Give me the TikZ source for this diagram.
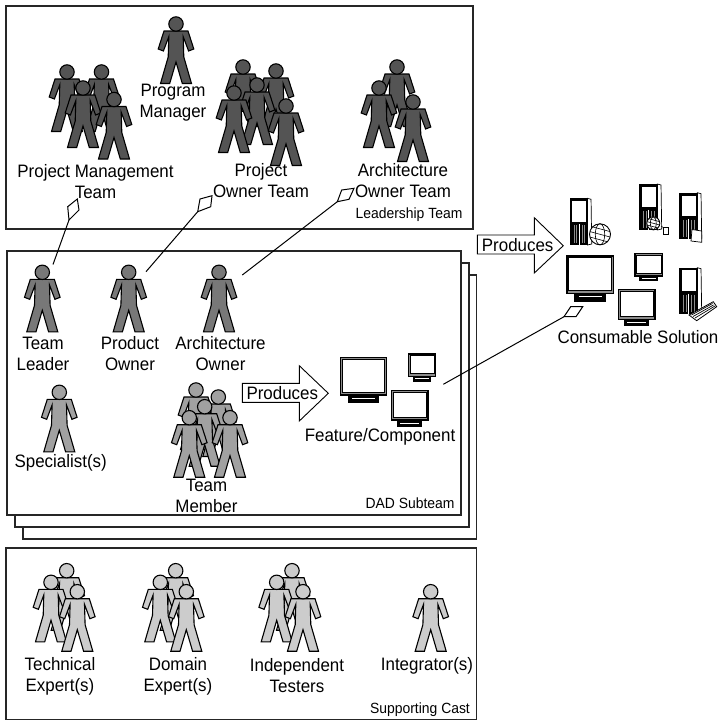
\documentclass[tikz,border=0pt]{standalone}
\usepackage{fontspec}
\setmainfont[FakeStretch=0.94]{Liberation Sans}
\tikzset{
  x=1pt,y=-1pt,
  frame/.style={draw=black!85,line width=1.3pt,fill=white},
  lab/.style={align=center,inner sep=0pt,font=\fontsize{18}{21}\selectfont},
  small/.style={inner sep=0pt,font=\fontsize{14.8}{17}\selectfont},
  conn/.style={draw=black,line width=1pt},
  kite/.style={draw=black,line width=1pt,fill=white},
  bigarrow/.style={draw=black,line width=.9pt,fill=white},
}
\definecolor{pdark}{gray}{.33}
\definecolor{pmid}{gray}{.47}
\definecolor{plight}{gray}{.63}
\definecolor{ppale}{gray}{.8}
\newcommand{\person}[3]{%
  \begin{scope}[shift={(#1,#2)}]
    \draw[fill=#3,draw=black,line width=1.1pt,line join=miter]
      (-12,7)--(-17.8,25)--(-12.6,27)--(-7.2,12.7)--(-7.8,33)--(-15.5,59.5)--(-6.3,59.5)--(0,38)
      --(6.3,59.5)--(15.5,59.5)--(7.8,33)--(7.2,12.7)--(12.6,27)--(17.8,25)--(12,7)--cycle;
    \draw[fill=#3,draw=black,line width=1.1pt] (0,0) circle (7.2);
  \end{scope}}
% x0 y0 x1 y1 (screen) y2 (bottom of stand)
\newcommand{\monitor}[5]{%
  \fill[black] ({#1+.16*(#3-#1)},#4) rectangle ({#3-.16*(#3-#1)},#5);
  \fill[white] ({#1+.25*(#3-#1)},{#4+.35*(#5-#4)}) rectangle ({#3-.25*(#3-#1)},{#4+.48*(#5-#4)});
  \draw[fill=black!45,draw=black,line width=1.1pt] (#1,#2) rectangle (#3,#4);
  \draw[fill=white,draw=black,line width=.8pt] ({#1+1.8},{#2+1.8}) rectangle ({#3-1.8},{#4-3});
}
% x0 y0 x1 y1
\newcommand{\tower}[4]{%
  \draw[fill=white,draw=black,line width=.7pt] ({#3-.2*(#3-#1)},#2)--({#3-.03*(#3-#1)},{#2+1})--(#3,{#4-1})--({#3-.2*(#3-#1)},#4)--cycle;
  \fill[black] (#1,#2) rectangle ({#1+.84*(#3-#1)},#4);
  \fill[white] ({#1+.11*(#3-#1)},{#2+.06*(#4-#2)}) rectangle ({#1+.73*(#3-#1)},{#2+.5*(#4-#2)});
  \foreach \t in {.14,.26,.5,.62}{
    \draw[black!45,line width=.3pt] ({#1+(\t+.04)*(#3-#1)},{#2+.58*(#4-#2)})--({#1+(\t+.04)*(#3-#1)},{#2+.96*(#4-#2)});}
  \draw[white,line width=.7pt] ({#1+.42*(#3-#1)},{#2+.56*(#4-#2)})--({#1+.42*(#3-#1)},{#4});
}
\newcommand{\globe}[3]{%
  \draw[fill=white,draw=black,line width=.9pt] (#1,#2) circle (#3);
  \draw[black,line width=.6pt] (#1,#2) ellipse ({.45*#3} and #3);
  \draw[black,line width=.6pt,rotate around={-15:(#1,#2)}] ({#1-#3},#2)--({#1+#3},#2);
  \draw[black,line width=.6pt,rotate around={-15:(#1,#2)}] ({#1-.85*#3},{#2-.5*#3})--({#1+.85*#3},{#2-.5*#3});
  \draw[black,line width=.6pt,rotate around={-15:(#1,#2)}] ({#1-.85*#3},{#2+.5*#3})--({#1+.85*#3},{#2+.5*#3});
}
\begin{document}
\begin{tikzpicture}
\useasboundingbox (0,0) rectangle (721,721);
\fill[white] (0,0) rectangle (721,721);
% frames
\draw[frame] (6,6) rectangle (473,229);
\draw[frame] (23,275) rectangle (476.5,539);
\draw[frame] (15,263) rectangle (469,527);
\draw[frame] (7,251) rectangle (461,515);
\draw[frame] (6,548) rectangle (476.5,719.5);
% people: leadership
\person{176}{24}{pdark}
\person{67}{72}{pdark}\person{101.5}{72}{pdark}\person{83}{88}{pdark}\person{114}{99.5}{pdark}
\person{243}{67}{pdark}\person{276}{71}{pdark}\person{257}{85}{pdark}\person{234}{93}{pdark}\person{286}{106}{pdark}
\person{397}{67}{pdark}\person{379}{88}{pdark}\person{413}{102}{pdark}
% people: subteam
\person{42.3}{272.3}{pmid}\person{128.7}{272.3}{pmid}\person{219}{272.3}{pmid}
\person{59.3}{392.3}{plight}
\person{196}{390}{plight}\person{218.3}{397}{plight}\person{204.7}{406.7}{plight}\person{189.3}{417.7}{plight}\person{230}{417.7}{plight}
% people: cast
\person{66.7}{570.7}{ppale}\person{51}{582.3}{ppale}\person{77.3}{591.7}{ppale}
\person{175.7}{570.7}{ppale}\person{160.3}{582.3}{ppale}\person{186.3}{591.7}{ppale}
\person{292}{570.7}{ppale}\person{276.7}{582.3}{ppale}\person{303}{591.7}{ppale}
\person{430.7}{591.7}{ppale}
% labels
\node[lab] (pm) at (173,102.5) {Program\\Manager};
\node[lab] (pmt) at (95.5,181.5) {Project Management\\Team};
\node[lab] (pot) at (261,181) {Project\\Owner Team};
\node[lab] (aot) at (403,181) {Architecture\\Owner Team};
\node[small] (lt) at (409,215) {Leadership Team};
\node[lab] (tl) at (43,354) {Team\\Leader};
\node[lab] (po) at (130,354) {Product\\Owner};
\node[lab] (ao) at (220.5,354) {Architecture\\Owner};
\node[lab] (sp) at (60.7,463) {Specialist(s)};
\node[lab] (tm) at (206.5,495.5) {Team\\Member};
\node[lab] (fc) at (380,437) {Feature/Component};
\node[small] (ds) at (410,503) {DAD Subteam};
\node[lab] (te) at (60,676) {Technical\\Expert(s)};
\node[lab] (de) at (178,676) {Domain\\Expert(s)};
\node[lab] (it) at (297,676) {Independent\\Testers};
\node[lab] (ig) at (427,666) {Integrator(s)};
\node[small] (sc) at (420,710) {Supporting Cast};
\node[lab] (cs) at (638,337) {Consumable Solution};
% connectors and kites
\coordinate (c1) at (53,264.5); \coordinate (k1) at (69,220);
\coordinate (c2) at (146,271.7); \coordinate (k2) at (197.7,211.7);
\coordinate (c3) at (242.3,275); \coordinate (k3) at (337.3,201.7);
\coordinate (c4) at (443.3,384.3); \coordinate (k4) at (564,316.7);
\draw[conn] (c1)--(k1);
\draw[conn] (c2)--(k2);
\draw[conn] (c3)--(k3);
\draw[conn] (c4)--(k4);
\draw[kite] (k1)--(67.7,206.7)--(77.3,199)--(79,210)--cycle;
\draw[kite] (k2)--(200,199)--(212,195.7)--(210.7,206.7)--cycle;
\draw[kite] (k3)--(341.7,190)--(354,188.3)--(349,199.3)--cycle;
\draw[kite] (k4)--(570.7,306.7)--(582.7,306.7)--(576,316.7)--cycle;
% produce arrows
\draw[bigarrow] (477.3,235)--(534.3,235)--(534.3,217.7)--(563.3,245.7)--(534.3,273)--(534.3,254)--(477.3,254)--cycle;
\node[lab] (p1) at (517.7,245) {Produces};
\draw[bigarrow] (242.3,383.3)--(299.3,383.3)--(299.3,365.7)--(328.3,393.3)--(299.3,421)--(299.3,402.3)--(242.3,402.3)--cycle;
\node[lab] (p2) at (282.3,393) {Produces};
% monitors: feature
\monitor{340.3}{357.3}{386.3}{395}{403.3}
\monitor{408.3}{354}{435.7}{376.7}{381.7}
\monitor{391.3}{390.7}{428}{420}{427.3}
% monitors: solution
\monitor{567}{256}{613.3}{293.3}{301.7}
\monitor{635}{253.3}{662.7}{276}{280.7}
\monitor{618.3}{289.3}{655}{319.3}{326}
% towers
\tower{570}{198.3}{591.7}{245}
\globe{600}{234.3}{10.5}
\tower{639.3}{184}{661.7}{230}
\globe{653.3}{223.3}{6.5}
\draw[fill=white,draw=black,line width=.7pt] (663.3,227.5) rectangle (668.5,234);
\draw[black,line width=.5pt] (663.3,227.5)--(661,226);
\tower{679.3}{192.7}{701.7}{239.3}
\draw[fill=white,draw=black,line width=.7pt] (692,229.5)--(701.7,231)--(701.7,242.3)--(691,241)--cycle;
\tower{679.3}{267.7}{701.7}{314}
\draw[fill=white,draw=black,line width=.8pt] (689,315)--(713.3,301.7)--(716.7,306.7)--(696.7,320.7)--cycle;
\draw[black,line width=.7pt] (691.5,315)--(712.5,303.5);
\draw[black,line width=.7pt] (693,316.5)--(713.5,305);
\draw[black,line width=.7pt] (695,318)--(715,306);
\end{tikzpicture}
\end{document}
